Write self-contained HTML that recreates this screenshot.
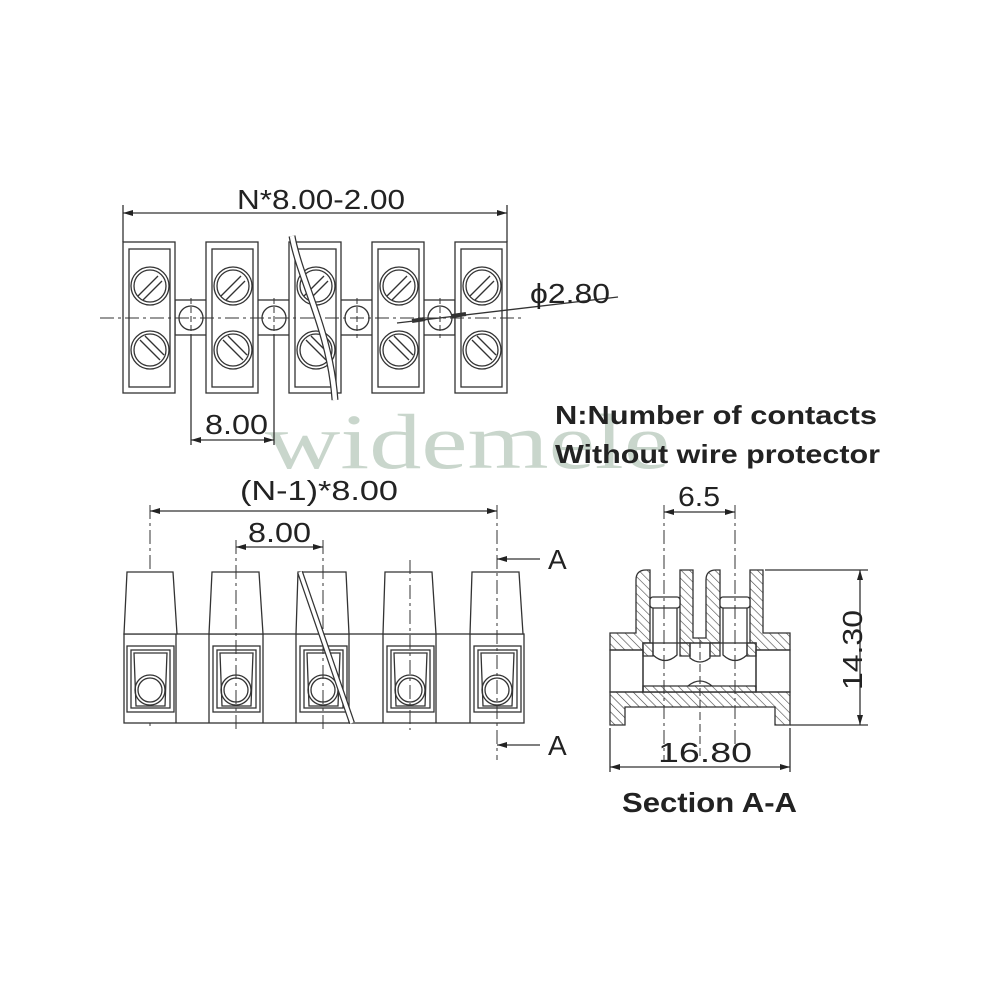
<!DOCTYPE html>
<html><head><meta charset="utf-8"><style>body{margin:0;background:#fff}svg{display:block}</style></head><body>
<svg width="1000" height="1000" viewBox="0 0 1000 1000" xmlns="http://www.w3.org/2000/svg" font-family="Liberation Sans, sans-serif">
<defs>
<pattern id="h" width="6" height="6" patternUnits="userSpaceOnUse" patternTransform="rotate(-45)">
<rect width="6" height="6" fill="#fff"/><line x1="0" y1="0" x2="0" y2="6" stroke="#444" stroke-width="1.2"/></pattern>
<marker id="a" viewBox="0 0 10 6" refX="10" refY="3" markerWidth="11" markerHeight="6" orient="auto-start-reverse" markerUnits="userSpaceOnUse"><path d="M0,0 L10,3 L0,6z" fill="#222"/></marker>
</defs>
<rect width="1000" height="1000" fill="#fff"/>
<text x="265" y="468" font-family="Liberation Serif, serif" font-size="78" fill="#c9d6cc" textLength="405" lengthAdjust="spacingAndGlyphs">widemele</text>

<g stroke="#333" stroke-width="1.3" fill="none">
<line x1="123" y1="205" x2="123" y2="242"/><line x1="507" y1="205" x2="507" y2="242"/>
<line x1="123" y1="213" x2="507" y2="213" marker-start="url(#a)" marker-end="url(#a)"/>
<rect x="175" y="300" width="280" height="35" fill="#fff"/>
<g fill="#fff">
<rect x="123" y="242" width="52" height="151"/><rect x="129" y="249" width="41" height="138"/>
<rect x="206" y="242" width="52" height="151"/><rect x="212" y="249" width="41" height="138"/>
<rect x="289" y="242" width="52" height="151"/><rect x="295" y="249" width="41" height="138"/>
<rect x="372" y="242" width="52" height="151"/><rect x="378" y="249" width="41" height="138"/>
<rect x="455" y="242" width="52" height="151"/><rect x="461" y="249" width="41" height="138"/>
</g>
<g id="sc">
<circle cx="150" cy="286" r="19"/><circle cx="150" cy="286" r="16"/>
<line x1="138" y1="296" x2="158" y2="276"/><line x1="143" y1="300" x2="162" y2="281"/>
<circle cx="150" cy="350" r="19"/><circle cx="150" cy="350" r="16"/>
<line x1="140" y1="340" x2="160" y2="360"/><line x1="145" y1="336" x2="164" y2="355"/>
</g>
<use href="#sc" x="83"/><use href="#sc" x="166"/><use href="#sc" x="249"/><use href="#sc" x="332"/>
<circle cx="191" cy="318" r="12"/><circle cx="274" cy="318" r="12"/><circle cx="357" cy="318" r="12"/><circle cx="440" cy="318" r="12"/>
<line x1="100" y1="318" x2="525" y2="318" stroke-dasharray="14,4,3,4" stroke-width="1"/>
<g stroke-dasharray="6,3" stroke-width="1"><line x1="191" y1="298" x2="191" y2="338"/><line x1="274" y1="298" x2="274" y2="338"/><line x1="357" y1="298" x2="357" y2="338"/><line x1="440" y1="298" x2="440" y2="338"/></g>
<path d="M292,236 C300,280 330,330 335,400" stroke="#333" fill="none" stroke-width="7"/>
<path d="M292,236 C300,280 330,330 335,400" stroke="#fff" fill="none" stroke-width="4.5"/>
<line x1="191" y1="335" x2="191" y2="445"/><line x1="274" y1="335" x2="274" y2="445"/>
<line x1="191" y1="440" x2="274" y2="440" marker-start="url(#a)" marker-end="url(#a)"/>
<line x1="397" y1="323" x2="618" y2="297"/>
<line x1="412" y1="321" x2="425" y2="319" stroke-width="4"/><line x1="452" y1="316" x2="466" y2="314" stroke-width="4"/>

<line x1="150" y1="505" x2="150" y2="730" stroke-dasharray="14,4,3,4" stroke-width="1"/>
<line x1="150" y1="511" x2="497" y2="511" marker-start="url(#a)" marker-end="url(#a)"/>
<line x1="236" y1="547" x2="323" y2="547" marker-start="url(#a)" marker-end="url(#a)"/>
<rect x="124" y="634" width="400" height="89" fill="#fff"/>
<g fill="#fff">
<path d="M127,572 L173,572 L177,634 L124,634Z"/>
<path d="M212,572 L259,572 L263,634 L209,634Z"/>
<path d="M298,572 L346,572 L349,634 L296,634Z"/>
<path d="M385,572 L432,572 L436,634 L383,634Z"/>
<path d="M472,572 L519,572 L523,634 L470,634Z"/>
</g>
<line x1="176" y1="634" x2="176" y2="723"/><line x1="209" y1="634" x2="209" y2="723"/>
<line x1="263" y1="634" x2="263" y2="723"/><line x1="296" y1="634" x2="296" y2="723"/>
<line x1="349" y1="634" x2="349" y2="723"/><line x1="383" y1="634" x2="383" y2="723"/>
<line x1="436" y1="634" x2="436" y2="723"/><line x1="470" y1="634" x2="470" y2="723"/>
<g id="win">
<rect x="127" y="646" width="47" height="66"/><rect x="131" y="650" width="39" height="58"/>
<path d="M134,653 L167,653 L165,706 L136,706Z"/>
<circle cx="150" cy="690" r="15"/><circle cx="150" cy="690" r="12"/>
</g>
<use href="#win" x="86"/><use href="#win" x="173"/><use href="#win" x="260"/><use href="#win" x="347"/>
<g stroke-dasharray="14,4,3,4" stroke-width="1">
<line x1="236" y1="540" x2="236" y2="730"/><line x1="323" y1="540" x2="323" y2="730"/>
<line x1="410" y1="560" x2="410" y2="730"/><line x1="497" y1="505" x2="497" y2="760"/>
</g>
<path d="M300,572 L352,723" stroke="#333" stroke-width="6"/><path d="M300,572 L352,723" stroke="#fff" stroke-width="3.5"/>
<line x1="497" y1="559" x2="540" y2="559" marker-start="url(#a)"/>
<line x1="497" y1="745" x2="540" y2="745" marker-start="url(#a)"/>

<!-- SECTION -->
<path fill="url(#h)" d="M610,633 L636,633 L636,580 Q636,570 646,570 L650,570 L650,643 L643,643 L643,650 L610,650Z"/>
<path fill="url(#h)" d="M680,570 L693,570 L693,638 L706,638 L706,580 Q706,570 716,570 L720,570 L720,643 L680,643Z"/>
<path fill="url(#h)" d="M750,570 L763,570 L763,633 L790,633 L790,650 L756,650 L756,643 L750,643Z"/>
<path fill="url(#h)" d="M643,643 L653,643 L653,656 L643,656Z"/>
<path fill="url(#h)" d="M680,643 L690,643 L690,656 L680,656Z M710,643 L720,643 L720,656 L710,656Z"/>
<path fill="url(#h)" d="M747,643 L756,643 L756,656 L747,656Z"/>
<path fill="url(#h)" d="M610,692 L790,692 L790,725 L775,725 L775,707 L625,707 L625,725 L610,725Z"/>
<path fill="url(#h)" d="M643,686 L756,686 L756,692 L643,692Z"/>
<rect x="610" y="650" width="33" height="42"/><rect x="756" y="650" width="34" height="42"/>
<rect x="643" y="643" width="113" height="49"/>
<rect x="650" y="597" width="30" height="11" rx="3" fill="#fff"/><rect x="720" y="597" width="30" height="11" rx="3" fill="#fff"/>
<path d="M653,608 L653,655 Q665,666 677,655 L677,608"/><path d="M723,608 L723,655 Q735,666 747,655 L747,608"/>
<path d="M690,643 L690,658 Q700,666 710,658 L710,643"/>
<path d="M688,686 Q700,676 712,686"/>
<line x1="664" y1="505" x2="664" y2="760" stroke-dasharray="14,4,3,4" stroke-width="1"/>
<line x1="735" y1="505" x2="735" y2="760" stroke-dasharray="14,4,3,4" stroke-width="1"/>
<line x1="664" y1="512" x2="735" y2="512" marker-start="url(#a)" marker-end="url(#a)"/>
<line x1="700" y1="640" x2="700" y2="760" stroke-dasharray="8,4" stroke-width="1"/>
<line x1="765" y1="570" x2="868" y2="570"/><line x1="790" y1="725" x2="868" y2="725"/>
<line x1="860" y1="570" x2="860" y2="725" marker-start="url(#a)" marker-end="url(#a)"/>
<line x1="610" y1="728" x2="610" y2="772"/><line x1="790" y1="728" x2="790" y2="772"/>
<line x1="610" y1="767" x2="790" y2="767" marker-start="url(#a)" marker-end="url(#a)"/>
</g>

<g fill="#222" font-size="28" lengthAdjust="spacingAndGlyphs">
<text x="237" y="209" textLength="168" lengthAdjust="spacingAndGlyphs">N*8.00-2.00</text>
<text x="530" y="303" textLength="80" lengthAdjust="spacingAndGlyphs">ϕ2.80</text>
<text x="205" y="434" textLength="63" lengthAdjust="spacingAndGlyphs">8.00</text>
<text x="240" y="500" textLength="158" lengthAdjust="spacingAndGlyphs">(N-1)*8.00</text>
<text x="248" y="542" textLength="63" lengthAdjust="spacingAndGlyphs">8.00</text>
<text x="548" y="569">A</text>
<text x="548" y="755">A</text>
<text x="678" y="506" textLength="42" lengthAdjust="spacingAndGlyphs">6.5</text>
<text x="658" y="762" textLength="94" lengthAdjust="spacingAndGlyphs">16.80</text>
<text transform="translate(862,690) rotate(-90)" textLength="80" lengthAdjust="spacingAndGlyphs">14.30</text>
<text x="555" y="424" font-weight="bold" font-size="26" textLength="322" lengthAdjust="spacingAndGlyphs">N:Number of contacts</text>
<text x="555" y="463" font-weight="bold" font-size="26" textLength="325" lengthAdjust="spacingAndGlyphs">Without wire protector</text>
<text x="622" y="812" font-weight="bold" font-size="28" textLength="175" lengthAdjust="spacingAndGlyphs">Section A-A</text>
</g>
</svg>
</body></html>
